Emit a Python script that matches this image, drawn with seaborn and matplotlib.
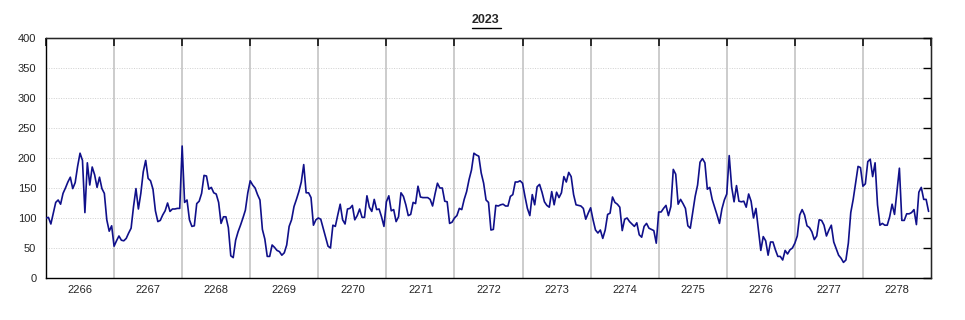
import numpy as np
import pandas as pd
import matplotlib
matplotlib.use("Agg")
import matplotlib.pyplot as plt
import seaborn as sns

# daily values per 28-day period
periods = ["2266", "2267", "2268", "2269", "2270", "2271", "2272",
           "2273", "2274", "2275", "2276", "2277", "2278"]
p2266 = [100, 101, 90, 108, 126, 130, 123, 141, 150, 160, 168, 149, 159, 186,
         208, 196, 109, 192, 155, 185, 172, 151, 168, 149, 141, 97, 78, 87]
p2267 = [53, 62, 70, 63, 62, 66, 75, 83, 119, 149, 115, 141, 177, 196,
         166, 162, 148, 112, 94, 96, 105, 112, 125, 111, 115, 115, 116, 116]
p2268 = [220, 126, 130, 97, 86, 87, 124, 128, 141, 171, 170, 148, 151, 142,
         140, 126, 91, 102, 102, 84, 37, 34, 63, 77, 88, 100, 113, 142]
p2269 = [162, 155, 150, 139, 130, 81, 65, 36, 36, 55, 51, 46, 44, 38,
         42, 55, 86, 97, 119, 131, 144, 160, 189, 142, 142, 134, 88, 97]
p2270 = [100, 98, 83, 68, 53, 50, 88, 86, 105, 123, 97, 90, 115, 116,
         121, 97, 104, 115, 101, 101, 137, 118, 111, 131, 114, 115, 102, 86]
p2271 = [127, 137, 112, 114, 94, 102, 142, 136, 122, 104, 106, 126, 124, 153,
         135, 134, 134, 134, 131, 120, 140, 158, 150, 150, 128, 127, 91, 93]
p2272 = [100, 104, 116, 114, 131, 144, 164, 180, 208, 205, 203, 175, 158, 130,
         126, 80, 81, 121, 120, 122, 123, 120, 120, 136, 139, 160, 160, 162]
p2273 = [158, 136, 116, 104, 139, 122, 152, 156, 143, 127, 121, 118, 144, 122,
         143, 134, 142, 169, 160, 176, 169, 139, 122, 121, 120, 116, 98, 108]
p2274 = [117, 97, 80, 75, 80, 66, 80, 106, 108, 135, 126, 123, 118, 79,
         98, 100, 94, 90, 86, 92, 72, 68, 86, 91, 83, 81, 79, 58]
p2275 = [110, 110, 116, 121, 104, 119, 181, 173, 123, 131, 124, 116, 87, 83,
         110, 136, 155, 193, 199, 192, 148, 151, 131, 118, 105, 91, 115, 130]
p2276 = [140, 204, 152, 127, 154, 128, 127, 128, 118, 140, 128, 100, 116, 81,
         46, 69, 62, 38, 60, 60, 47, 36, 36, 30, 46, 40, 47, 50]
p2277 = [58, 70, 105, 114, 105, 87, 84, 77, 64, 70, 97, 96, 88, 70,
         80, 88, 60, 49, 38, 33, 26, 30, 58, 109, 131, 158, 186, 184]
p2278 = [153, 157, 194, 198, 169, 192, 122, 88, 91, 88, 88, 102, 123, 106,
         144, 183, 96, 96, 107, 107, 109, 114, 89, 143, 151, 131, 131, 111]

series = [p2266, p2267, p2268, p2269, p2270, p2271, p2272,
          p2273, p2274, p2275, p2276, p2277, p2278]
plen = 28

rows = []
for k, vals in enumerate(series):
    for d, v in enumerate(vals):
        rows.append({"day": k * plen + d, "value": v})
df = pd.DataFrame(rows)

sns.set_style("white")
plt.rcParams["font.family"] = ["Liberation Sans", "DejaVu Sans"]

fig = plt.figure(figsize=(9.65, 3.2), dpi=100)
ax = fig.add_axes([46 / 965, 42 / 320, 885 / 965, 240 / 320])

n = len(periods) * plen
bounds = np.arange(0, n + 1, plen)

# vertical separators and dotted horizontal grid
for b in bounds[1:-1]:
    ax.axvline(b, color="#c8c8c8", lw=1.3, zorder=1)
for y in range(50, 400, 50):
    ax.axhline(y, color="#d0d0d0", lw=0.7, ls=(0, (1, 1.5)), zorder=0)

sns.lineplot(data=df, x="day", y="value", color="#10108a", lw=1.2, ax=ax, zorder=3)

ax.set_xlim(0, n - 0.6)
ax.set_ylim(0, 400)
ax.set_xlabel("")
ax.set_ylabel("")

ax.set_yticks(range(0, 401, 50))
ax.set_xticks(bounds)
ax.set_xticklabels([])
ax.set_xticks(bounds[:-1] + plen / 2, minor=True)
ax.set_xticklabels(periods, minor=True)
ax.tick_params(axis="x", which="major", direction="out", length=6, width=1, color="black")
ax.tick_params(axis="x", which="minor", length=0, labelsize=8, pad=5)
ax.tick_params(axis="y", direction="out", length=5, width=1, labelsize=8, pad=2, color="black")

for s in ax.spines.values():
    s.set_color("black")
    s.set_linewidth(1)

# inward ticks on top and right
top = ax.secondary_xaxis("top")
top.set_xticks(bounds)
top.set_xticklabels([])
top.tick_params(direction="in", length=6, width=1.1, color="black")
top.set_zorder(5)
right = ax.secondary_yaxis("right")
right.set_yticks(range(0, 401, 50))
right.set_yticklabels([])
right.tick_params(direction="in", length=6, width=1, color="black")
right.set_zorder(5)

fig.text(0.5036, 1 - 20 / 320, "2023", ha="center", va="center",
         fontsize=9, fontweight="bold")
fig.add_artist(plt.Line2D([472 / 965, 501 / 965], [1 - 27.5 / 320, 1 - 27.5 / 320],
                          color="black", lw=1))

fig.savefig("out.png", dpi=100)
